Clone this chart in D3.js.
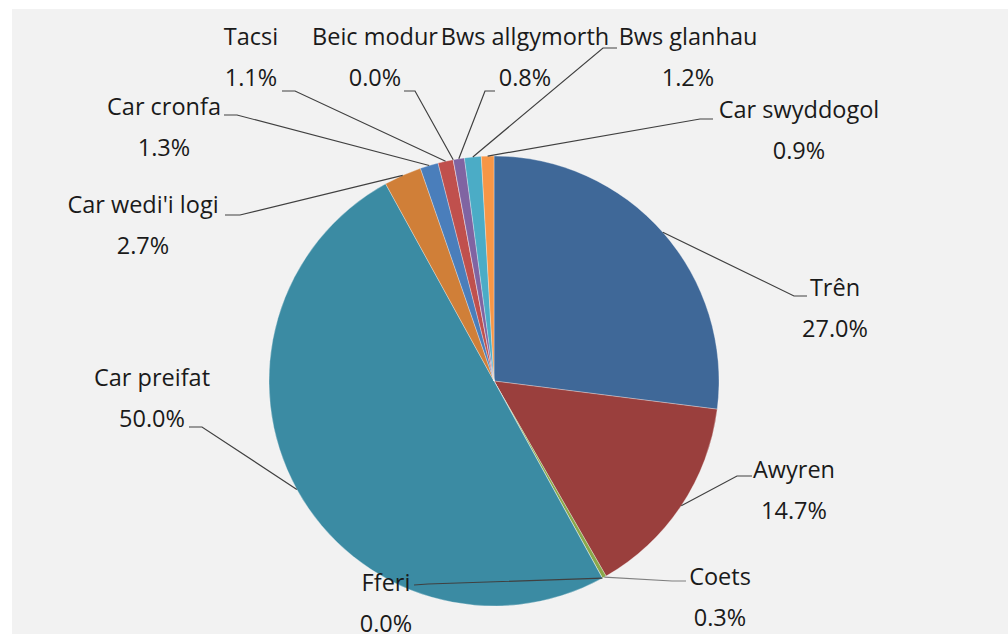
<!DOCTYPE html>
<html>
<head>
<meta charset="utf-8">
<script src="https://cdn.jsdelivr.net/npm/d3@7"></script>
<style>
  body { margin: 0; background: #ffffff; }
  svg { display: block; }
  .label { font-family: 'Open Sans', 'Noto Sans', sans-serif; font-size: 23.5px; fill: #1a1a1a; }
</style>
</head>
<body>
<div id="chart"></div>
<script>
// Data
const categories = ['Trên', 'Awyren', 'Coets', 'Fferi', 'Car preifat', "Car wedi'i logi",
  'Car cronfa', 'Tacsi', 'Beic modur', 'Bws allgymorth', 'Bws glanhau', 'Car swyddogol'];
const values = [27.0, 14.7, 0.3, 0.0, 50.0, 2.7, 1.3, 1.1, 0.0, 0.8, 1.2, 0.9];
const percentLabels = ['27.0%', '14.7%', '0.3%', '0.0%', '50.0%', '2.7%', '1.3%', '1.1%', '0.0%', '0.8%', '1.2%', '0.9%'];
const colors = ['#3f6898', '#9a3f3d', '#8aa84b', '#6f5a92', '#3b8ba3', '#d07f38',
  '#4a7ebb', '#c0504d', '#9bbb59', '#8064a2', '#4bacc6', '#f79646'];

// Label placement (layout only): label block centre, leader elbow and end
const labelLayout = [
  { cx: 835, cy: 288, elbow: [794, 296], end: [807, 296] },
  { cx: 794, cy: 470, elbow: [737, 476], end: [752, 476] },
  { cx: 720, cy: 577, elbow: [672, 581], end: [686, 581] },
  { cx: 386, cy: 583, elbow: [428, 584], end: [414, 585] },
  { cx: 152, cy: 378, elbow: [202, 427], end: [189, 427] },
  { cx: 143, cy: 205, elbow: [240, 215], end: [225, 215] },
  { cx: 164, cy: 107, elbow: [237, 115], end: [224, 115] },
  { cx: 251, cy: 37, elbow: [295, 91], end: [282, 91] },
  { cx: 375, cy: 37, elbow: [415, 91], end: [404, 91] },
  { cx: 525, cy: 37, elbow: [485, 91], end: [495, 91] },
  { cx: 688, cy: 37, elbow: [603, 48], end: [617, 48] },
  { cx: 799, cy: 110, elbow: [700, 119], end: [713, 119] },
];

const width = 1008;
const height = 634;
const center = { x: 494, y: 381 };
const radius = 225;

const svg = d3
  .select('#chart')
  .append('svg')
  .attr('width', width)
  .attr('height', height);

// Grey chart area
svg
  .append('rect')
  .attr('x', 12)
  .attr('y', 9)
  .attr('width', width - 12)
  .attr('height', height - 9)
  .attr('fill', '#f2f2f2');

const data = categories.map((c, i) => ({ name: c, value: values[i], pct: percentLabels[i], i }));

const pie = d3.pie().value((d) => d.value).sort(null);
const arcs = pie(data);

const arc = d3.arc().innerRadius(0).outerRadius(radius);
const edge = d3.arc().innerRadius(radius).outerRadius(radius);

const g = svg.append('g').attr('transform', `translate(${center.x},${center.y})`);

// Slices
g.selectAll('path.slice')
  .data(arcs)
  .enter()
  .append('path')
  .attr('class', 'slice')
  .attr('d', arc)
  .attr('fill', (d) => colors[d.data.i])
  .attr('stroke', '#ffffff')
  .attr('stroke-opacity', 0.5)
  .attr('stroke-width', 0.6);

// Leader lines from slice edge to label
svg
  .selectAll('polyline.leader')
  .data(arcs)
  .enter()
  .append('polyline')
  .attr('class', 'leader')
  .attr('points', (d) => {
    const [sx, sy] = edge.centroid(d);
    const l = labelLayout[d.data.i];
    return [[sx + center.x, sy + center.y], l.elbow, l.end].map((p) => p.join(',')).join(' ');
  })
  .attr('fill', 'none')
  .attr('stroke', (d) => (d.data.name === 'Coets' ? '#7f7f7f' : '#404040'))
  .attr('stroke-width', 1.2);

// Labels: name and percentage
const labels = svg
  .selectAll('g.lbl')
  .data(arcs)
  .enter()
  .append('g')
  .attr('class', 'lbl');

labels
  .append('text')
  .attr('class', 'label')
  .attr('x', (d) => labelLayout[d.data.i].cx)
  .attr('y', (d) => labelLayout[d.data.i].cy)
  .attr('dy', '0.35em')
  .attr('text-anchor', 'middle')
  .text((d) => d.data.name);

labels
  .append('text')
  .attr('class', 'label')
  .attr('x', (d) => labelLayout[d.data.i].cx)
  .attr('y', (d) => labelLayout[d.data.i].cy + 41)
  .attr('dy', '0.35em')
  .attr('text-anchor', 'middle')
  .text((d) => d.data.pct);
</script>
</body>
</html>
